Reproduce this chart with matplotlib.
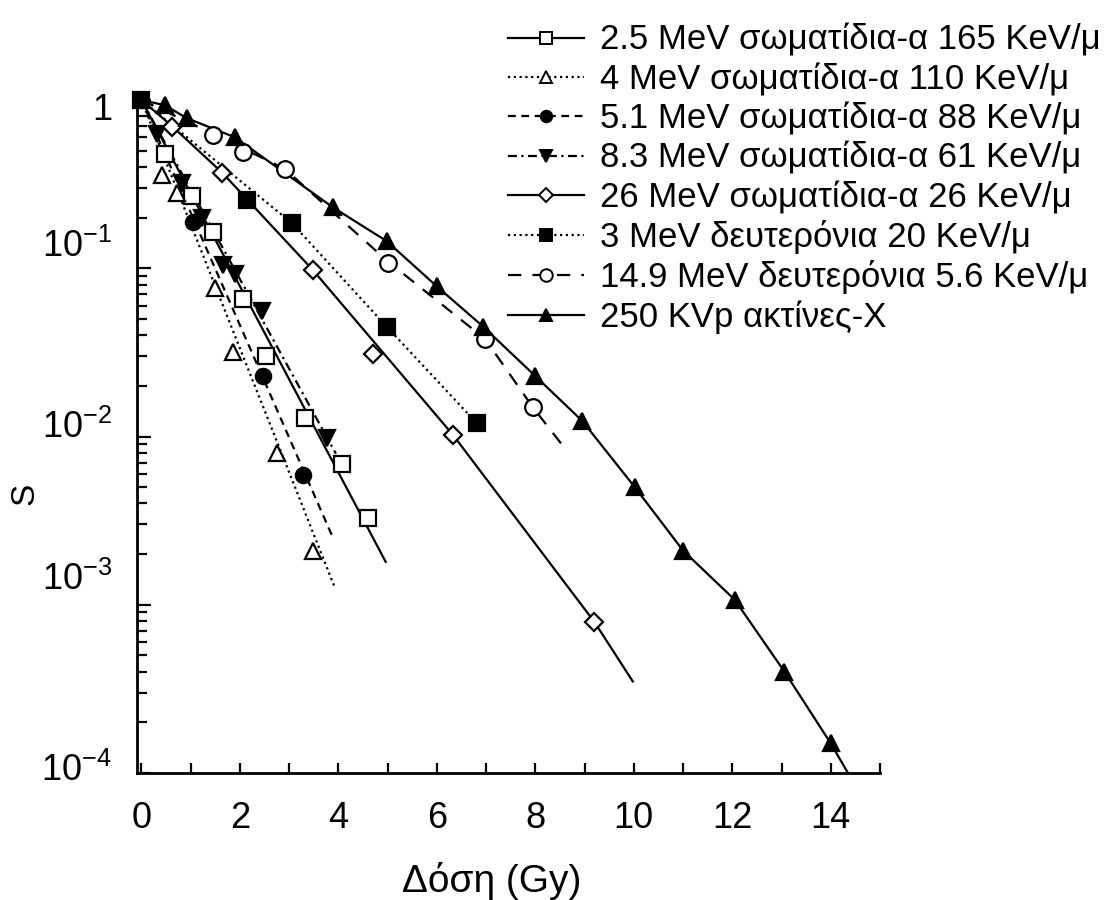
"""
Survival curves S vs dose for particles of different LET (scanned figure remake).
"""

import matplotlib

matplotlib.use("Agg")
import matplotlib.pyplot as plt
from matplotlib.ticker import FixedLocator, LogLocator, NullFormatter
from matplotlib.transforms import ScaledTranslation

plt.rcParams["font.family"] = ["Liberation Sans", "DejaVu Sans"]
plt.rcParams["mathtext.fontset"] = "custom"
plt.rcParams["mathtext.rm"] = "Liberation Sans"

# --- data (dose in Gy, surviving fraction S) ---
labels = [
    "2.5 MeV σωματίδια-α 165 KeV/μ",
    "4 MeV σωματίδια-α 110 KeV/μ",
    "5.1 MeV σωματίδια-α 88 KeV/μ",
    "8.3 MeV σωματίδια-α 61 KeV/μ",
    "26 MeV σωματίδια-α 26 KeV/μ",
    "3 MeV δευτερόνια 20 KeV/μ",
    "14.9 MeV δευτερόνια 5.6 KeV/μ",
    "250 KVp ακτίνες-Χ",
]

# measured points
x_a25 = [0.48, 1.02, 1.46, 2.06, 2.54, 3.32, 4.07, 4.60]
s_a25 = [0.48, 0.27, 0.164, 0.066, 0.030, 0.0128, 0.0069, 0.0033]
x_a4 = [0.41, 0.72, 1.49, 1.86, 2.76, 3.49]
s_a4 = [0.36, 0.28, 0.076, 0.032, 0.008, 0.0021]
x_a51 = [1.05, 2.47, 3.28]
s_a51 = [0.188, 0.023, 0.0059]
x_a83 = [0.31, 0.82, 1.23, 1.66, 1.90, 2.45, 3.77]
s_a83 = [0.63, 0.32, 0.20, 0.104, 0.093, 0.056, 0.0098]
x_a26 = [0.62, 1.64, 3.49, 4.70, 6.33, 9.20]
s_a26 = [0.69, 0.37, 0.097, 0.031, 0.0102, 0.00079]
x_d3 = [0, 2.14, 3.06, 4.98, 6.81]
s_d3 = [1.0, 0.254, 0.185, 0.045, 0.012]
x_d149 = [1.45, 2.06, 2.91, 5.00, 6.98, 7.95]
s_d149 = [0.62, 0.49, 0.39, 0.107, 0.038, 0.0149]
x_xray = [0.48, 0.92, 1.90, 3.89, 4.98, 6.00, 6.94, 7.99, 8.95, 10.02, 11.0, 12.05, 13.06, 14.0]
s_xray = [0.93, 0.78, 0.60, 0.23, 0.145, 0.078, 0.045, 0.023, 0.0124, 0.0050, 0.0021, 0.00107, 0.00040, 0.00015]

# fitted curves drawn through the points
fx_a25 = [0, 4.96]
fs_a25 = [1.0, 0.0018]
fx_a4 = [0, 3.93]
fs_a4 = [1.0, 0.00126]
fx_a51 = [0, 3.89]
fs_a51 = [1.0, 0.0025]
fx_a83 = [0, 3.95]
fs_a83 = [1.0, 0.0079]
fx_a26 = [0, 0.62, 1.64, 3.49, 6.33, 9.20, 9.98]
fs_a26 = [1.0, 0.70, 0.37, 0.097, 0.0102, 0.00079, 0.00035]
fx_d3 = [0, 3.06, 4.98, 6.81]
fs_d3 = [1.0, 0.185, 0.045, 0.012]
fx_d149 = [0, 1.45, 2.91, 5.00, 6.98, 7.95, 8.60]
fs_d149 = [1.0, 0.63, 0.39, 0.11, 0.038, 0.0149, 0.0085]
fx_xray = [0, 0.48, 0.92, 1.90, 3.89, 4.98, 6.00, 6.94, 7.99, 8.95, 10.02, 11.0, 12.05, 13.06, 14.0, 14.35]
fs_xray = [1.0, 0.93, 0.78, 0.60, 0.23, 0.145, 0.078, 0.045, 0.023, 0.0124, 0.0050, 0.0021, 0.00107, 0.00040, 0.00015, 0.0001]

x_major = [0, 2, 4, 6, 8, 10, 12, 14]
x_minor = [1, 3, 5, 7, 9, 11, 13, 15]
y_major = [1e-4, 1e-3, 1e-2, 1e-1, 1]
y_labels = [r"$\mathregular{10^{-4}}$", r"$\mathregular{10^{-3}}$",
            r"$\mathregular{10^{-2}}$", r"$\mathregular{10^{-1}}$", "1"]
# the scanned labels sit a little off their ticks (pixels, + = up)
y_label_shift = [6, 29, 13, 25, -7]

DOT = (0, (1, 1.6))
DASH = (0, (3.5, 2.5))
DASHDOT = (0, (4, 2, 1, 2))
LONGDASH = (0, (6, 5))

series = [
    (x_a25, s_a25, fx_a25, fs_a25, "-", "s", "white", 12),
    (x_a4, s_a4, fx_a4, fs_a4, DOT, "^", "white", 12),
    (x_a51, s_a51, fx_a51, fs_a51, DASH, "o", "black", 11),
    (x_a83, s_a83, fx_a83, fs_a83, DASHDOT, "v", "black", 12),
    (x_a26, s_a26, fx_a26, fs_a26, "-", "D", "white", 9),
    (x_d3, s_d3, fx_d3, fs_d3, DOT, "s", "black", 11),
    (x_d149, s_d149, fx_d149, fs_d149, LONGDASH, "o", "white", 12),
    (x_xray, s_xray, fx_xray, fs_xray, "-", "^", "black", 12),
]

fig = plt.figure(figsize=(11.1, 9), dpi=100)
ax = fig.add_axes([137 / 1110, 1 - 773 / 900, (880 - 137) / 1110, (773 - 100) / 900])

handles = []
for (mx, ms, fx, fs, ls, mk, mfc, size), lab in zip(series, labels):
    ax.plot(fx, fs, color="black", lw=1.6, ls=ls, clip_on=False)
    ax.plot(mx, ms, ls="none", marker=mk, ms=size, mfc=mfc, mec="black",
            mew=1.6, clip_on=False, zorder=3)
    (h,) = ax.plot([], [], color="black", lw=1.6, ls=ls, marker=mk, ms=size * 0.75,
                   mfc=mfc, mec="black", mew=1.4, label=lab)
    handles.append(h)

ax.set_yscale("log")
ax.set_xlim(-0.09, 15)
ax.set_ylim(1e-4, 1)

for side in ["top", "right"]:
    ax.spines[side].set_visible(False)
for side in ["left", "bottom"]:
    ax.spines[side].set_linewidth(2.0)

ax.xaxis.set_major_locator(FixedLocator(x_major))
ax.xaxis.set_minor_locator(FixedLocator(x_minor))
ax.set_xticklabels([str(v) for v in x_major])
ax.yaxis.set_major_locator(FixedLocator(y_major))
ax.yaxis.set_minor_locator(LogLocator(base=10, subs=range(2, 10)))
ax.yaxis.set_minor_formatter(NullFormatter())
ax.set_yticklabels(y_labels)

ax.tick_params(axis="both", which="both", direction="in", width=1.6, labelsize=26, colors="black")
ax.tick_params(axis="x", which="both", length=7, pad=20)
ax.tick_params(axis="y", which="major", length=10, pad=18)
ax.tick_params(axis="y", which="minor", length=7)

for lab, dy in zip(ax.get_yticklabels(), y_label_shift):
    lab.set_transform(lab.get_transform() + ScaledTranslation(0, dy / 100, fig.dpi_scale_trans))

ax.set_xlabel("Δόση (Gy)", fontsize=28)
ax.xaxis.set_label_coords((492 - 137) / 743, -(862 - 773) / 673)
ax.set_ylabel("S", fontsize=24)
ax.yaxis.set_label_coords((40 - 137) / 743, (773 - 494) / 673)

fig.legend(handles=handles, loc="upper left", bbox_to_anchor=(508 / 1110, 1 - 24 / 900),
           frameon=False, borderpad=0, borderaxespad=0, fontsize=25,
           handlelength=2.2, handletextpad=0.45, labelspacing=0.18)

fig.savefig("out.png", dpi=100)
